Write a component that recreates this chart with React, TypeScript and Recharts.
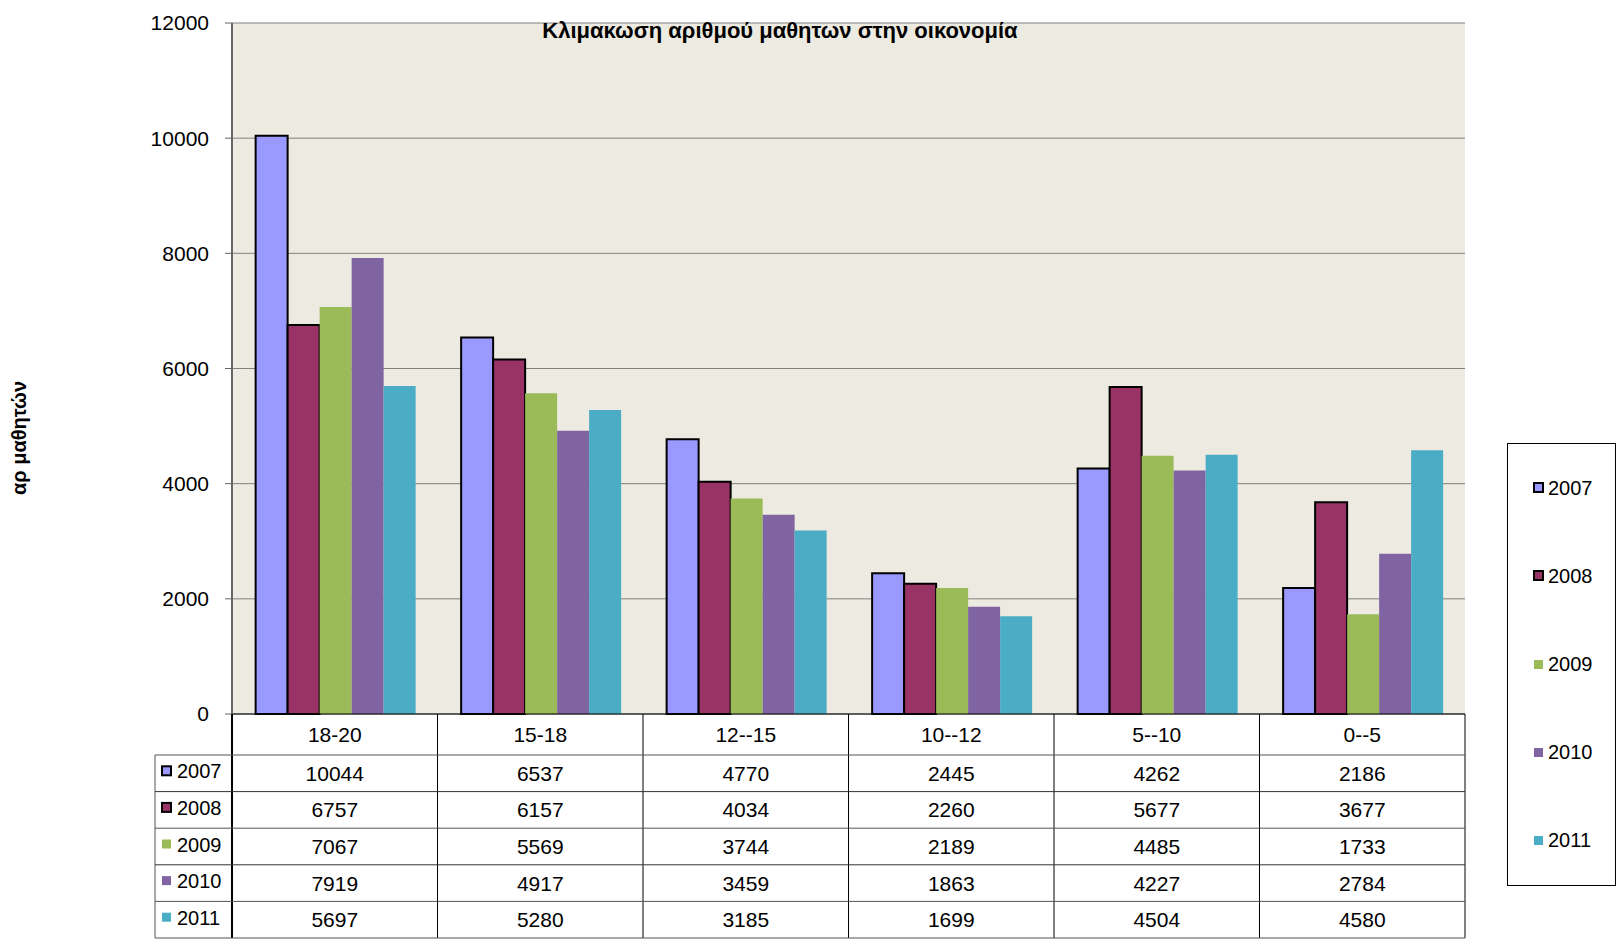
import React from 'react';
import { BarChart, Bar, XAxis, YAxis, CartesianGrid } from 'recharts';

const categories = ['18-20', '15-18', '12--15', '10--12', '5--10', '0--5'];
const years = ['2007', '2008', '2009', '2010', '2011'];
const v2007 = [10044, 6537, 4770, 2445, 4262, 2186];
const v2008 = [6757, 6157, 4034, 2260, 5677, 3677];
const v2009 = [7067, 5569, 3744, 2189, 4485, 1733];
const v2010 = [7919, 4917, 3459, 1863, 4227, 2784];
const v2011 = [5697, 5280, 3185, 1699, 4504, 4580];
const yTicks = [0, 2000, 4000, 6000, 8000, 10000, 12000];

const seriesValues = [v2007, v2008, v2009, v2010, v2011];
const colors = ['#9999FF', '#993366', '#9BBB59', '#8064A2', '#4BACC6'];
const outlined = [true, true, false, false, false];

const data = categories.map((name, i) => {
  const row: any = { name };
  years.forEach((yr, s) => { row['y' + yr] = seriesValues[s][i]; });
  return row;
});

// layout
const W = 1617;
const H = 947;
const PLOT_LEFT = 232;
const PLOT_RIGHT = 1465;
const PLOT_TOP = 23;
const PLOT_BOTTOM = 714;
const HEADER_H = 41;
const ROW_H = 36.6;
const LABEL_COL_W = 77;
const FONT = '"Liberation Sans", Arial, sans-serif';

const Swatch = ({ color, outline, x, y }: any) => (
  outline
    ? <rect x={x + 1} y={y + 1} width={9} height={9} fill={color} stroke="#000" strokeWidth={2} />
    : <rect x={x + 1} y={y + 1} width={9} height={9} fill={color} />
);

const TableTick = (props: any) => {
  const { x, y, payload } = props;
  const idx = categories.indexOf(payload.value);
  const cw = (PLOT_RIGHT - PLOT_LEFT) / categories.length;
  const x0 = x - cw / 2;
  const x1 = x + cw / 2;
  const bottom = y + HEADER_H + ROW_H * years.length;
  const left = idx === 0 ? x0 - LABEL_COL_W : x0;
  return (
    <g fontFamily={FONT} fontSize={21} fill="#000">
      <line x1={x1} y1={y} x2={x1} y2={bottom} stroke="#000" />
      {idx === 0 && <line x1={x0} y1={y} x2={x0} y2={bottom} stroke="#000" strokeWidth={2} />}
      {idx === 0 && <line x1={left} y1={y + HEADER_H} x2={left} y2={bottom} stroke="#555" />}
      <text x={x} y={y + HEADER_H / 2} textAnchor="middle" dominantBaseline="central">{payload.value}</text>
      {years.map((yr, r) => {
        const top = y + HEADER_H + ROW_H * r;
        return (
          <g key={yr}>
            <line x1={left} y1={top} x2={x1} y2={top} stroke={r % 2 ? '#333' : '#555'} />
            <text x={x} y={top + ROW_H / 2} textAnchor="middle" dominantBaseline="central">
              {seriesValues[r][idx]}
            </text>
            {idx === 0 && (
              <g>
                <Swatch color={colors[r]} outline={outlined[r]} x={left + 6} y={top + ROW_H / 2 - 8} />
                <text x={left + 22} y={top + ROW_H / 2 - 2} dominantBaseline="central" fontSize={20}>{yr}</text>
              </g>
            )}
          </g>
        );
      })}
      <line x1={left} y1={bottom} x2={x1} y2={bottom} stroke="#555" />
    </g>
  );
};

export default function App() {
  return (
    <div style={{ position: 'absolute', left: 0, top: 0, width: W, height: H, fontFamily: FONT }}>
      <BarChart
        width={W}
        height={H}
        data={data}
        margin={{ top: PLOT_TOP, right: W - PLOT_RIGHT, left: 0, bottom: 0 }}
        barCategoryGap="11.5%"
        barGap={0}
      >
        <CartesianGrid vertical={false} stroke="#808080" fill="#EDEBE1" />
        <XAxis
          dataKey="name"
          height={H - PLOT_BOTTOM}
          tickSize={0}
          tickMargin={0}
          interval={0}
          axisLine={{ stroke: '#000' }}
          tick={<TableTick />}
        />
        <YAxis
          domain={[0, 12000]}
          ticks={yTicks}
          interval={0}
          width={PLOT_LEFT}
          tickSize={7}
          tickMargin={16}
          axisLine={{ stroke: '#666', strokeWidth: 2 }}
          tickLine={{ stroke: '#666' }}
          tick={{ fill: '#000', fontSize: 21, fontFamily: FONT }}
        />
        <YAxis yAxisId="border" orientation="right" width={0} tick={false} tickLine={false}
          axisLine={{ stroke: '#888', strokeWidth: 2 }} domain={[0, 12000]} />
        {years.map((yr, i) => (
          <Bar
            key={yr}
            dataKey={'y' + yr}
            name={yr}
            fill={colors[i]}
            stroke={outlined[i] ? '#000' : 'none'}
            strokeWidth={outlined[i] ? 2 : 0}
            isAnimationActive={false}
          />
        ))}
      </BarChart>
      <svg width={W} height={H} style={{ position: 'absolute', left: 0, top: 0, pointerEvents: 'none' }}>
        <text x={780} y={38} textAnchor="middle" fontFamily={FONT} fontWeight="bold" fontSize={22} fill="#000">
          Κλιμακωση αριθμού μαθητων στην οικονομία
        </text>
        <text x={19} y={438} textAnchor="middle" dominantBaseline="central" fontFamily={FONT}
          fontWeight="bold" fontSize={20} fill="#000" transform="rotate(-90 19 438)">
          αρ μαθητών
        </text>
      </svg>
      <div style={{
        position: 'absolute', left: 1507, top: 443, width: 107, height: 441,
        border: '1px solid #000', display: 'flex', flexDirection: 'column',
      }}>
        {years.map((yr, i) => (
          <div key={yr} style={{ flex: 1, display: 'flex', alignItems: 'center', paddingLeft: 24, fontSize: 20 }}>
            <svg width={14} height={14} style={{ marginRight: 2 }}>
              <Swatch color={colors[i]} outline={outlined[i]} x={1} y={1} />
            </svg>
            <span>{yr}</span>
          </div>
        ))}
      </div>
    </div>
  );
}
